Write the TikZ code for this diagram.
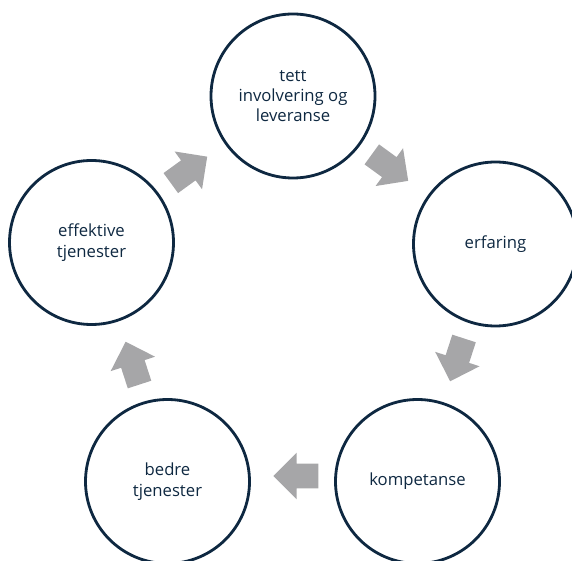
\documentclass[tikz,border=0pt]{standalone}
\usepackage{fontspec}
\setmainfont{Open Sans}
\usetikzlibrary{shapes.arrows}
\definecolor{navy}{RGB}{14,40,65}
\definecolor{arrowgray}{RGB}{166,166,168}

\begin{document}
\begin{tikzpicture}
    \tikzset{
        stage/.style={draw=navy, line width=1.6pt, circle, minimum size=3.28cm, inner sep=0pt,
            align=center, text=navy, font=\fontsize{9.5}{11.6}\selectfont},
        blockarrow/.style={single arrow, fill=arrowgray, draw=none, inner xsep=0pt, inner ysep=0.24cm,
            minimum width=0pt, minimum height=0.9cm, single arrow head extend=0.22cm, single arrow tip angle=90}
    }
    \useasboundingbox (0,0) rectangle (11.44,11.2);
    \clip (0,0) rectangle (11.44,11.2);

    % Stages of the cycle
    \node[stage] (tett) at (5.86,9.28) {tett\\involvering og\\leveranse};
    \node[stage] (erfaring) at (9.91,6.32) {erfaring};
    \node[stage] (kompetanse) at (8.35,1.57) {kompetanse};
    \node[stage] (bedre) at (3.35,1.57) {bedre\\tjenester};
    \node[stage] (effektive) at (1.83,6.35) {effektive\\tjenester};

    % Block arrows between the stages
    \node[blockarrow, rotate=-36] (a1) at (7.70,7.92) {};
    \node[blockarrow, rotate=-108] (a2) at (9.18,4.12) {};
    \node[blockarrow, rotate=180] (a3) at (6.04,1.68) {};
    \node[blockarrow, rotate=108] (a4) at (2.69,3.82) {};
    \node[blockarrow, rotate=36] (a5) at (3.68,7.73) {};
\end{tikzpicture}
\end{document}
